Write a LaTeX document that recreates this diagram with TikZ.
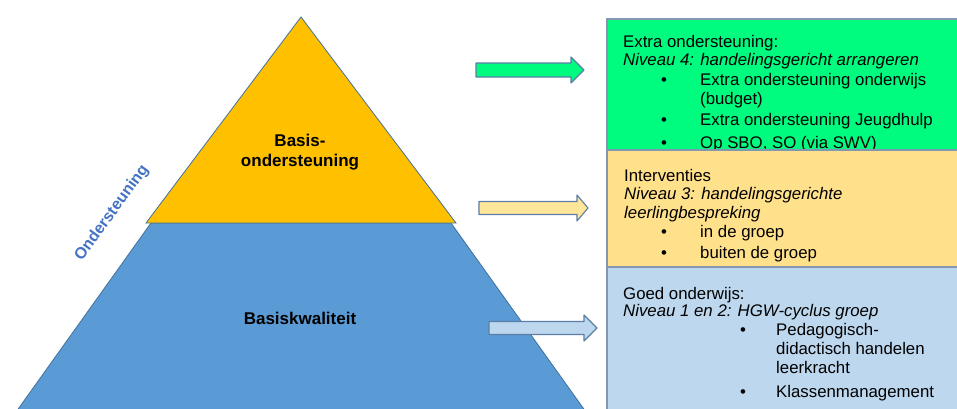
\documentclass[tikz,border=0pt]{standalone}
\usepackage{fontspec}
\setmainfont{Liberation Sans}
\definecolor{pyrY}{HTML}{FFC000}
\definecolor{pyrB}{HTML}{5B9BD5}
\definecolor{pyrLine}{HTML}{41719C}
\definecolor{grnF}{HTML}{00FC7F}
\definecolor{ylwF}{HTML}{FFE18C}
\definecolor{ylwA}{HTML}{FFE699}
\definecolor{bluF}{HTML}{BDD7EE}
\definecolor{boxLine}{HTML}{8497B0}
\definecolor{arrLine}{HTML}{5B7DA8}
\definecolor{ondC}{HTML}{4472C4}
\tikzset{
  boxtext/.style={anchor=base west, inner sep=0pt, font=\fontsize{16.8}{19.7}\selectfont},
  boxital/.style={boxtext, font=\fontsize{16.8}{19.7}\selectfont\itshape},
  pyrtext/.style={anchor=base, inner sep=0pt, font=\fontsize{17}{20}\selectfont\bfseries},
  pyrshape/.style={draw=pyrLine, line width=0.8pt, line join=miter},
  infobox/.style={draw=boxLine, line width=1.3pt},
  blockarr/.style={draw=arrLine, line width=1.1pt, line join=round},
}
\begin{document}
\begin{tikzpicture}[x=1pt,y=-1pt]
\useasboundingbox (0,0) rectangle (957,408);
\clip (0,0) rectangle (957,408);
\fill[white] (0,0) rectangle (957,408);

% pyramid
\filldraw[pyrshape, fill=pyrB] (151,223) -- (451,223) -- (586,412) -- (16,412) -- cycle;
\filldraw[pyrshape, fill=pyrY] (301,17) -- (456,223) -- (146,223) -- cycle;
\node[pyrtext] (basis1) at (300,146) {Basis-};
\node[pyrtext] (basis2) at (300,166) {ondersteuning};
\node[pyrtext] (bkw) at (300,324) {Basiskwaliteit};
\node[rotate=54, inner sep=0pt, text=ondC, font=\fontsize{16}{18}\selectfont\bfseries] (ond) at (112,213) {Ondersteuning};

% arrows
\filldraw[blockarr, fill=grnF] (476,63) -- (571,63) -- (571,57) -- (584,70) -- (571,83) -- (571,77) -- (476,77) -- cycle;
\filldraw[blockarr, fill=ylwA] (479,201.5) -- (577,201.5) -- (577,195) -- (588,208) -- (577,221) -- (577,214.5) -- (479,214.5) -- cycle;
\filldraw[blockarr, fill=bluF] (489,321.5) -- (584,321.5) -- (584,315) -- (597,328) -- (584,341) -- (584,334.5) -- (489,334.5) -- cycle;

% green box
\filldraw[infobox, fill=grnF] (607,19) rectangle (970,150);
\node[boxtext] (g1) at (623,47) {Extra ondersteuning:};
\node[boxital] (g2) at (623,65.5) {Niveau 4: handelingsgericht arrangeren};
\node[boxtext] (g3b) at (661,85) {•};
\node[boxtext] (g3) at (700,85) {Extra ondersteuning onderwijs};
\node[boxtext] (g4) at (700,104.5) {(budget)};
\node[boxtext] (g5b) at (661,125) {•};
\node[boxtext] (g5) at (700,125) {Extra ondersteuning Jeugdhulp};
\node[boxtext] (g6b) at (661,148.5) {•};
\node[boxtext] (g6) at (700,148.5) {Op SBO, SO (via SWV)};

% yellow box
\filldraw[infobox, fill=ylwF] (607,150) rectangle (970,267);
\node[boxtext] (y1) at (624,181) {Interventies};
\node[boxital] (y2) at (624,199.5) {Niveau 3: handelingsgerichte};
\node[boxital] (y3) at (624,218) {leerlingbespreking};
\node[boxtext] (y4b) at (661,237) {•};
\node[boxtext] (y4) at (700,237) {in de groep};
\node[boxtext] (y5b) at (661,258) {•};
\node[boxtext] (y5) at (700,258) {buiten de groep};

% blue box
\filldraw[infobox, fill=bluF] (607,267) rectangle (970,420);
\node[boxtext] (b1) at (623,299) {Goed onderwijs:};
\node[boxital] (b2) at (623,316.5) {Niveau 1 en 2: HGW-cyclus  groep};
\node[boxtext] (b3b) at (740,335) {•};
\node[boxtext] (b3) at (776,335) {Pedagogisch-};
\node[boxtext] (b4) at (776,354) {didactisch handelen};
\node[boxtext] (b5) at (776,373) {leerkracht};
\node[boxtext] (b6b) at (740,397) {•};
\node[boxtext] (b6) at (776,397) {Klassenmanagement};
\end{tikzpicture}
\end{document}
